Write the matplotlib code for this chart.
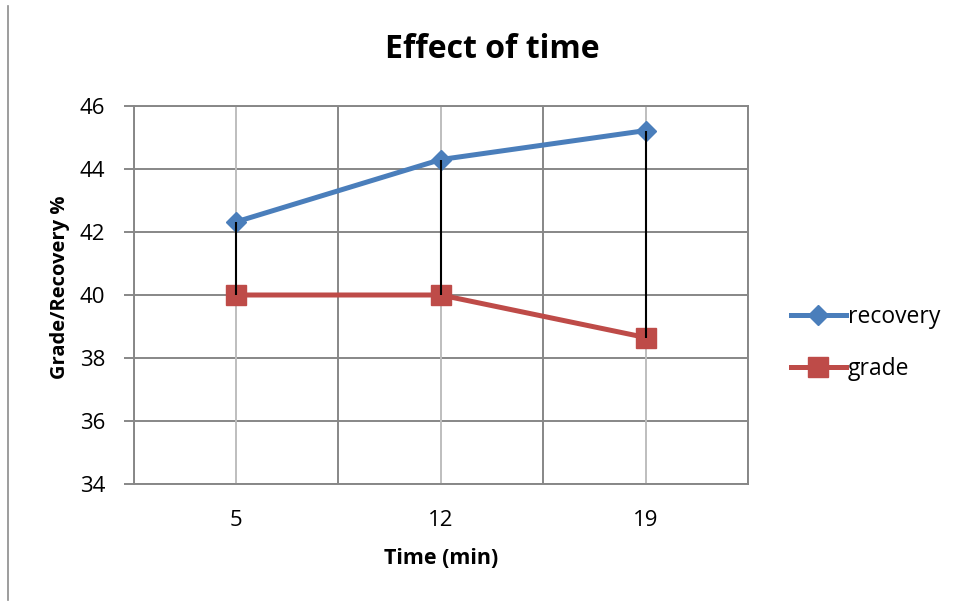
import numpy as np
import matplotlib.pyplot as plt
from matplotlib.lines import Line2D

plt.rcParams['font.family'] = ['Open Sans', 'DejaVu Sans']

# data
times = ["5", "12", "19"]
recovery = [42.32, 44.3, 45.22]
grade = [40.0, 40.0, 38.65]
y_ticks = [34, 36, 38, 40, 42, 44, 46]

blue = "#4A7EBB"
red = "#BE4B48"
dark_grid = "#878787"
light_grid = "#BEBEBE"

fig = plt.figure(figsize=(9.59, 6.06), dpi=100)
ax = fig.add_axes([133.5 / 959, 1 - 484 / 606, (748 - 133.5) / 959, (484 - 106) / 606])

x = np.arange(len(times))

# grid lines
for yv in y_ticks:
    ax.axhline(yv, color=dark_grid, lw=1.4, zorder=0)
for xb in np.arange(len(times) + 1) - 0.5:
    ax.axvline(xb, color=dark_grid, lw=1.4, zorder=0)
for xc in x:
    ax.axvline(xc, color=light_grid, lw=1.4, zorder=0)

# high-low lines
ax.vlines(x, grade, recovery, color="black", lw=1.5, zorder=3)

ax.plot(x, recovery, color=blue, lw=3.6, marker="D", ms=10, zorder=2, label="recovery")
ax.plot(x, grade, color=red, lw=3.6, marker="s", ms=14, zorder=2, label="grade")

ax.set_xlim(-0.5, len(times) - 0.5)
ax.set_ylim(34, 46)
ax.set_yticks(y_ticks)
ax.set_xticks(x)
ax.set_xticklabels(times)
ax.tick_params(axis="x", length=0, pad=19, labelsize=16)
ax.tick_params(axis="y", length=7, width=1.4, color=dark_grid, pad=13.5, labelsize=16)

for s in ax.spines.values():
    s.set_color(dark_grid)
    s.set_linewidth(1.4)

ax.set_xlabel("Time (min)", fontsize=15.5, fontweight="bold", labelpad=12)
ax.set_ylabel("Grade/Recovery %", fontsize=14.5, fontweight="bold")
ax.yaxis.set_label_coords(-64 / 614.5, 0.52)
fig.text(492 / 959, 1 - 50 / 606, "Effect of time", fontsize=23, fontweight="bold",
         ha="center", va="center")

handles = [
    Line2D([], [], color=blue, lw=3.6, marker="D", ms=10),
    Line2D([], [], color=red, lw=3.6, marker="s", ms=14),
]
fig.legend(handles, ["recovery", "grade"], loc="center left",
           bbox_to_anchor=(770 / 959, 1 - 343 / 606), frameon=False,
           fontsize=16.5, handlelength=2.4, handletextpad=0.1, labelspacing=1.25)

# left border line of the original image
fig.add_artist(Line2D([8 / 959, 8 / 959], [1 - 600 / 606, 1 - 6 / 606],
                      color="#8C8C8C", lw=1.2))

fig.savefig("out.png", dpi=100)
